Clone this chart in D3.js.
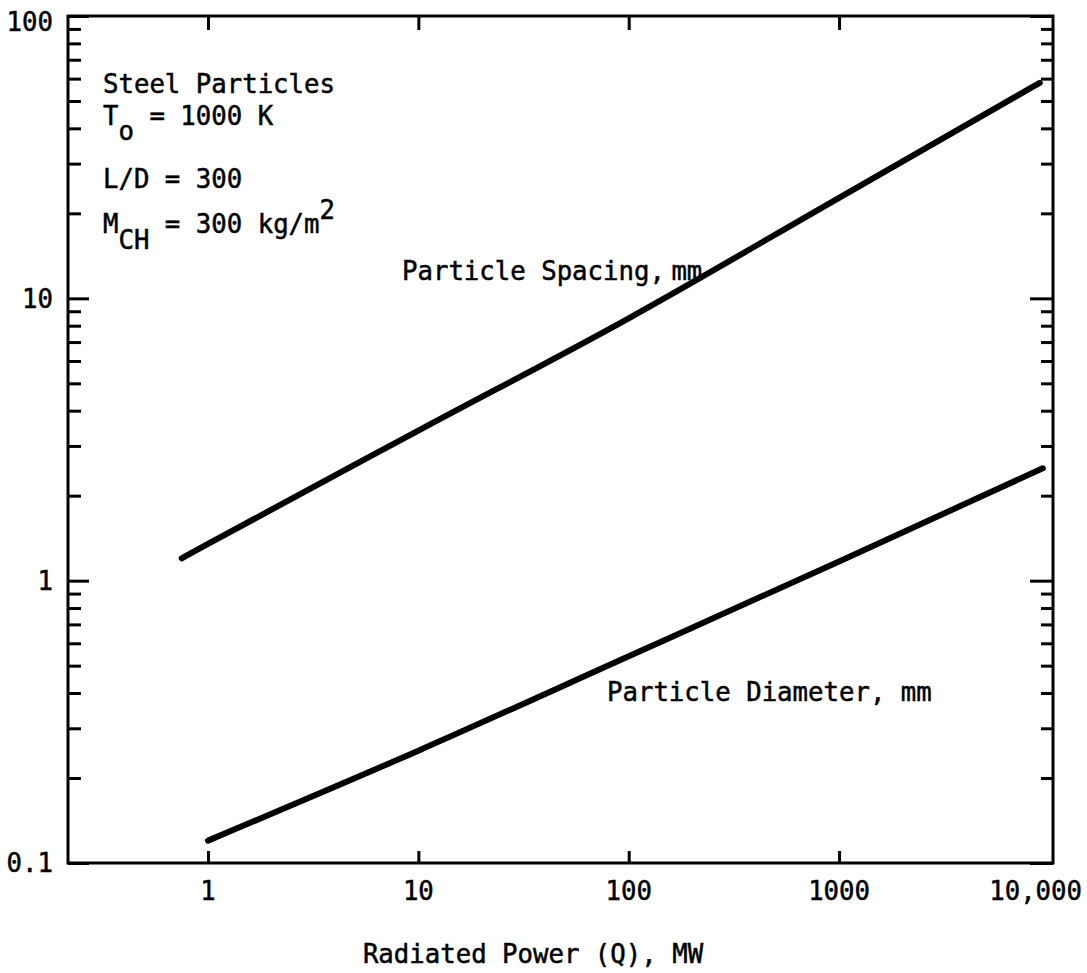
<!DOCTYPE html>
<html>
<head>
<meta charset="utf-8">
<script src="https://cdn.jsdelivr.net/npm/d3@7"></script>
<style>
  body { margin: 0; background: #fff; }
  text { font-family: "DejaVu Sans Mono", monospace; fill: #000; stroke: #000; stroke-width: 0.5px; }
</style>
</head>
<body>
<div id="chart"></div>
<script>
// values (log-log)
var spacingQ = [0.75, 1, 10, 100, 1000, 9000];
var spacingMM = [1.2, 1.35, 3.4, 8.5, 22.7, 58];
var diameterQ = [1, 10, 100, 1000, 9300];
var diameterMM = [0.12, 0.25, 0.54, 1.17, 2.5];

var xTicks = [1, 10, 100, 1000, 10000];
var xTickLabels = ["1", "10", "100", "1000", "10,000"];
var yTicks = [0.1, 1, 10, 100];
var yTickLabels = ["0.1", "1", "10", "100"];

var width = 1087, height = 973;
var plotL = 68, plotR = 1053, plotT = 16, plotB = 863;
var fs = 25.7;

var svg = d3.select("#chart").append("svg")
    .attr("width", width)
    .attr("height", height);

var x = d3.scaleLog().domain([0.216, 10400]).range([plotL, plotR]);
var y = d3.scaleLog().domain([0.1, 100]).range([plotB, plotT]);

var minorY = y.ticks().filter(function (d) { return yTicks.indexOf(d) === -1; });
var majorX = xTicks.filter(function (d) { return d < 10000; });

function tickAxis(axis, tx, ty) {
    var g = svg.append("g")
        .attr("transform", "translate(" + tx + "," + ty + ")")
        .call(axis);
    g.select(".domain").remove();
    g.selectAll(".tick line").attr("stroke", "#000").attr("stroke-width", 3);
    g.selectAll(".tick text").remove();
    return g;
}

// left side (ticks point inward)
tickAxis(d3.axisRight(y).tickValues(yTicks).tickSize(21), plotL, 0);
tickAxis(d3.axisRight(y).tickValues(minorY).tickSize(13), plotL, 0);
// right side
tickAxis(d3.axisLeft(y).tickValues(yTicks).tickSize(23), plotR, 0);
tickAxis(d3.axisLeft(y).tickValues(minorY).tickSize(12), plotR, 0);
// top and bottom
tickAxis(d3.axisBottom(x).tickValues(majorX).tickSize(14), 0, plotT);
tickAxis(d3.axisTop(x).tickValues(majorX).tickSize(12), 0, plotB);

// frame
svg.append("rect")
    .attr("x", plotL).attr("y", plotT)
    .attr("width", plotR - plotL).attr("height", plotB - plotT)
    .attr("fill", "none").attr("stroke", "#000").attr("stroke-width", 3);

// y tick labels
svg.selectAll(".ylab")
    .data(yTicks)
  .enter().append("text")
    .attr("class", "ylab")
    .attr("x", plotL - 15)
    .attr("y", function (d) { return d === 100 ? y(d) + 6 : y(d); })
    .attr("dy", "0.36em")
    .attr("text-anchor", "end")
    .attr("font-size", fs)
    .text(function (d, i) { return yTickLabels[i]; });

// x tick labels
svg.selectAll(".xlab")
    .data(xTicks)
  .enter().append("text")
    .attr("class", "xlab")
    .attr("x", function (d) { return d === 10000 ? width - 5 : x(d); })
    .attr("y", 900)
    .attr("text-anchor", function (d) { return d === 10000 ? "end" : "middle"; })
    .attr("font-size", fs)
    .text(function (d, i) { return xTickLabels[i]; });

// x title
svg.append("text")
    .attr("x", 533).attr("y", 963)
    .attr("text-anchor", "middle")
    .attr("font-size", fs)
    .text("Radiated Power (Q), MW");

// curves
var line = d3.line()
    .curve(d3.curveMonotoneX)
    .x(function (d) { return x(d[0]); })
    .y(function (d) { return y(d[1]); });

var series = [
    d3.zip(spacingQ, spacingMM),
    d3.zip(diameterQ, diameterMM)
];

svg.selectAll(".curve")
    .data(series)
  .enter().append("path")
    .attr("class", "curve")
    .attr("d", line)
    .attr("fill", "none")
    .attr("stroke", "#000")
    .attr("stroke-width", 6)
    .attr("stroke-linecap", "round");

// curve labels
var sp = svg.append("text")
    .attr("x", 402).attr("y", 280)
    .attr("font-size", fs);
sp.append("tspan").text("Particle Spacing,");
sp.append("tspan").attr("dx", -9).text(" mm");

svg.append("text")
    .attr("x", 607).attr("y", 701)
    .attr("font-size", fs)
    .text("Particle Diameter, mm");

// conditions block
var tx = 103;
svg.append("text").attr("x", tx).attr("y", 93).attr("font-size", fs).text("Steel Particles");

var t0 = svg.append("text").attr("x", tx).attr("y", 125).attr("font-size", fs);
t0.append("tspan").text("T");
t0.append("tspan").attr("dy", 15).text("o");
t0.append("tspan").attr("dy", -15).text(" = 1000 K");

svg.append("text").attr("x", tx).attr("y", 188).attr("font-size", fs).text("L/D = 300");

var m = svg.append("text").attr("x", tx).attr("y", 233).attr("font-size", fs);
m.append("tspan").text("M");
m.append("tspan").attr("dy", 16).text("CH");
m.append("tspan").attr("dy", -16).text(" = 300 kg/m");
m.append("tspan").attr("dy", -14).text("2");
</script>
</body>
</html>
